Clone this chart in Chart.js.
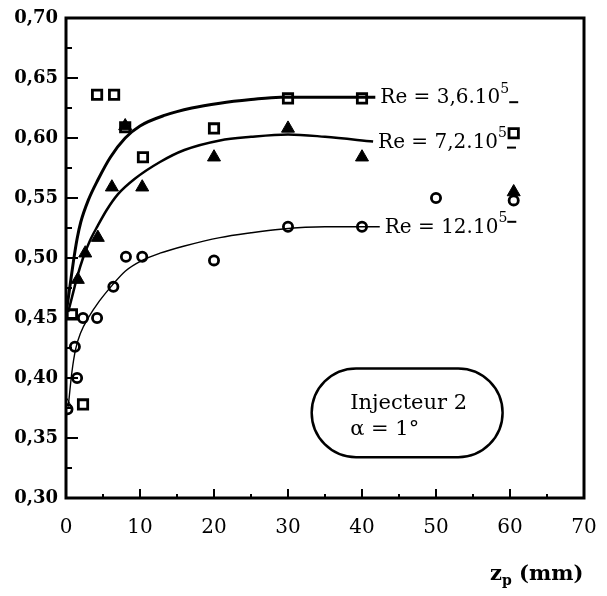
<!DOCTYPE html>
<html>
<head>
<meta charset="utf-8">
<script src="https://cdn.jsdelivr.net/npm/chart.js@4/dist/chart.umd.min.js"></script>
<style>
  html, body { margin: 0; padding: 0; background: #fff; }
  canvas { display: block; }
</style>
</head>
<body>
<canvas id="chart" width="607" height="596"></canvas>
<script>
// measured points, Re = 3,6.10^5 (open squares)
const sqZ = [0.8, 2.3, 4.2, 6.5, 8, 10.4, 20, 30, 40, 60.5];
const sqV = [0.453, 0.378, 0.636, 0.636, 0.609, 0.584, 0.608, 0.633, 0.633, 0.604];
// Re = 7,2.10^5 (filled triangles, first one hollow)
const triZ = [0, 1.6, 2.6, 4.3, 6.2, 8, 10.3, 20, 30, 40, 60.5];
const triV = [0.378, 0.482, 0.504, 0.517, 0.559, 0.61, 0.559, 0.584, 0.608, 0.584, 0.555];
// Re = 12.10^5 (open circles)
const cirZ = [0.2, 1.5, 1.2, 2.3, 4.2, 6.4, 8.1, 10.3, 20, 30, 40, 50, 60.5];
const cirV = [0.374, 0.40, 0.426, 0.45, 0.45, 0.476, 0.501, 0.501, 0.498, 0.526, 0.526, 0.55, 0.548];

// fitted curves, sampled along the drawn lines
const fitSqZ = [0, 0.5, 1.0, 1.5, 2, 3, 4.3, 6, 8, 10, 13.4, 17, 20.8, 25, 29, 35, 41.8];
const fitSqV = [0.453, 0.475, 0.497, 0.516, 0.530, 0.548, 0.565, 0.584, 0.600, 0.610, 0.619, 0.625, 0.629, 0.632, 0.634, 0.634, 0.634];
const fitTriZ = [0.3, 1.0, 1.5, 2.3, 3.2, 4.3, 5.5, 7, 9.3, 12.7, 16, 20.8, 25, 30, 35, 41.5];
const fitTriV = [0.455, 0.472, 0.484, 0.500, 0.514, 0.527, 0.540, 0.553, 0.566, 0.580, 0.590, 0.598, 0.601, 0.603, 0.601, 0.597];
const fitCirZ = [0.3, 0.8, 1.3, 2, 3, 4.5, 6.2, 8, 10.3, 12.7, 16, 20.8, 25, 29, 35, 42.4];
const fitCirV = [0.376, 0.405, 0.424, 0.438, 0.450, 0.464, 0.477, 0.489, 0.498, 0.504, 0.510, 0.517, 0.521, 0.524, 0.526, 0.526];

const xTicks = [0, 10, 20, 30, 40, 50, 60, 70];
const yTicks = [0.30, 0.35, 0.40, 0.45, 0.50, 0.55, 0.60, 0.65, 0.70];

const SERIF = '"DejaVu Serif", "Liberation Serif", serif';

const pts = (zs, vs) => zs.map((z, i) => ({ x: z, y: vs[i] }));

function curve(zs, vs, width) {
    return {
        data: pts(zs, vs),
        showLine: true,
        borderColor: '#000',
        borderWidth: width,
        pointRadius: 0,
        cubicInterpolationMode: 'monotone',
        fill: false,
    };
}

// frame, inward ticks, curve labels, the note box and the axis title
const decorations = {
    id: 'decorations',
    afterDraw(chart) {
        const ctx = chart.ctx;
        const a = chart.chartArea;
        const xs = chart.scales.x;
        const ys = chart.scales.y;
        ctx.save();
        ctx.strokeStyle = '#000';
        ctx.fillStyle = '#000';

        // ticks pointing into the plot
        ctx.lineWidth = 2;
        ctx.beginPath();
        for (let v = 0.325; v < 0.70; v += 0.025) {
            const y = ys.getPixelForValue(v);
            const major = Math.abs(v * 20 - Math.round(v * 20)) < 1e-6;
            ctx.moveTo(a.left, y);
            ctx.lineTo(a.left + (major ? 12 : 6), y);
        }
        for (let v = 5; v < 70; v += 5) {
            const x = xs.getPixelForValue(v);
            ctx.moveTo(x, a.bottom);
            ctx.lineTo(x, a.bottom - (v % 10 === 0 ? 9 : 4));
        }
        ctx.stroke();

        ctx.lineWidth = 3;
        ctx.strokeRect(a.left, a.top, a.right - a.left, a.bottom - a.top);

        // Re labels at the end of each fitted curve
        const label = (z, v, main, dash) => {
            const x = xs.getPixelForValue(z) + 5;
            const y = ys.getPixelForValue(v);
            ctx.font = '20px ' + SERIF;
            ctx.textAlign = 'left';
            ctx.textBaseline = 'middle';
            ctx.fillText(main, x, y + 1);
            const w = ctx.measureText(main).width;
            ctx.font = '14px ' + SERIF;
            ctx.fillText('5', x + w, y - 8);
            const w5 = ctx.measureText('5').width;
            ctx.lineWidth = 2;
            ctx.beginPath();
            ctx.moveTo(x + w + w5, y + dash);
            ctx.lineTo(x + w + w5 + 9, y + dash);
            ctx.stroke();
        };
        label(fitSqZ[fitSqZ.length - 1], fitSqV[fitSqV.length - 1], 'Re = 3,6.10', 5);
        label(fitTriZ[fitTriZ.length - 1], fitTriV[fitTriV.length - 1], 'Re = 7,2.10', 6);
        label(fitCirZ[fitCirZ.length - 1], fitCirV[fitCirV.length - 1], 'Re = 12.10', -5);

        // rounded note box
        const bx1 = xs.getPixelForValue(33.2), bx2 = xs.getPixelForValue(59.0);
        const by1 = ys.getPixelForValue(0.408), by2 = ys.getPixelForValue(0.334);
        const r = (by2 - by1) / 2;
        ctx.lineWidth = 2.5;
        ctx.beginPath();
        ctx.moveTo(bx1 + r, by1);
        ctx.lineTo(bx2 - r, by1);
        ctx.arc(bx2 - r, by1 + r, r, -Math.PI / 2, Math.PI / 2);
        ctx.lineTo(bx1 + r, by2);
        ctx.arc(bx1 + r, by1 + r, r, Math.PI / 2, Math.PI * 1.5);
        ctx.closePath();
        ctx.stroke();
        ctx.font = '21px ' + SERIF;
        ctx.textBaseline = 'middle';
        ctx.fillText('Injecteur 2', xs.getPixelForValue(38.4), ys.getPixelForValue(0.379));
        ctx.fillText('\u03b1 = 1\u00b0', xs.getPixelForValue(38.4), ys.getPixelForValue(0.357));

        // axis title z_p (mm)
        const tx = xs.getPixelForValue(57.3);
        const ty = a.bottom + 82;
        ctx.font = 'bold 21px ' + SERIF;
        ctx.textBaseline = 'alphabetic';
        ctx.fillText('z', tx, ty);
        const zw = ctx.measureText('z').width;
        ctx.font = 'bold 14px ' + SERIF;
        ctx.fillText('p', tx + zw, ty + 5);
        const pw = ctx.measureText('p').width;
        ctx.font = 'bold 21px ' + SERIF;
        ctx.fillText(' (mm)', tx + zw + pw, ty);
        ctx.restore();
    }
};

// keep the plot box where the layout padding puts it
function fixBox(s, size) {
    if (s.isHorizontal()) s.height = size; else s.width = size;
    s.paddingLeft = 0;
    s.paddingRight = 0;
    s.paddingTop = 0;
    s.paddingBottom = 0;
}

// lower dataset index is painted on top
new Chart(document.getElementById('chart'), {
    type: 'scatter',
    data: {
        datasets: [
            curve(fitSqZ, fitSqV, 3),
            curve(fitTriZ, fitTriV, 2.5),
            curve(fitCirZ, fitCirV, 1.4),
            {
                data: pts(cirZ, cirV),
                pointStyle: 'circle',
                pointRadius: 4.6,
                pointBorderWidth: 2.8,
                pointBorderColor: '#000',
                pointBackgroundColor: '#fff',
            },
            {
                data: pts(triZ, triV),
                pointStyle: 'triangle',
                pointRadius: 7.5,
                pointBorderWidth: 1,
                pointBorderColor: '#000',
                pointBackgroundColor: triZ.map((z, i) => (i === 0 ? '#fff' : '#000')),
            },
            {
                data: pts(sqZ, sqV),
                pointStyle: 'rect',
                pointRadius: 6.6,
                pointBorderWidth: 2.8,
                pointBorderColor: '#000',
                pointBackgroundColor: '#fff',
            },
        ],
    },
    options: {
        responsive: false,
        animation: false,
        layout: { padding: { left: 0, top: 18, right: 23, bottom: 0 } },
        plugins: { legend: { display: false }, tooltip: { enabled: false } },
        scales: {
            x: {
                type: 'linear',
                min: 0,
                max: 70,
                afterBuildTicks: (s) => { s.ticks = xTicks.map((v) => ({ value: v })); },
                afterFit: (s) => fixBox(s, 98),
                grid: { display: false, drawTicks: false },
                border: { display: false },
                ticks: {
                    padding: 18,
                    color: '#000',
                    font: { family: SERIF, size: 20 },
                },
            },
            y: {
                type: 'linear',
                min: 0.30,
                max: 0.70,
                afterBuildTicks: (s) => { s.ticks = yTicks.map((v) => ({ value: v })); },
                afterFit: (s) => fixBox(s, 66),
                grid: { display: false, drawTicks: false },
                border: { display: false },
                ticks: {
                    padding: 8,
                    color: '#000',
                    font: { family: SERIF, size: 18, weight: 'bold' },
                    callback: (v) => v.toFixed(2).replace('.', ','),
                },
            },
        },
    },
    plugins: [decorations],
});
</script>
</body>
</html>
